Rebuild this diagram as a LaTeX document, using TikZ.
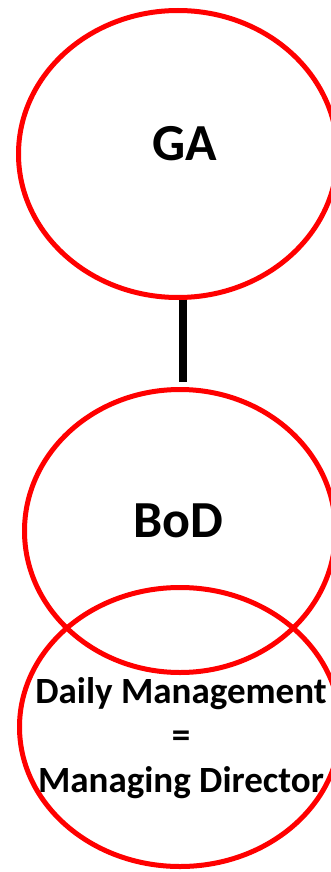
\documentclass[tikz,border=0pt]{standalone}
\usepackage{fontspec}
\setmainfont{Carlito}
\usetikzlibrary{shapes.geometric}
\definecolor{ringred}{RGB}{255,0,0}
\tikzset{
  bubble/.style={draw=ringred, line width=5pt, ellipse, inner sep=0pt, fill=none},
  bigtext/.style={font=\bfseries\fontsize{52}{60}\selectfont, inner sep=0pt, text height=33pt, text depth=19pt},
  dmtext/.style={font=\bfseries\fontsize{37}{44.5}\selectfont, inner sep=0pt, align=center},
  link/.style={line width=8pt, black}
}
\begin{document}
\begin{tikzpicture}[x=1pt,y=-1pt]
\useasboundingbox (0,0) rectangle (331,872);
\clip (0,0) rectangle (331,872);
\fill[white] (0,0) rectangle (331,872);
\node[bubble, minimum width=319pt, minimum height=287pt] (GA) at (178,154) {};
\node[bubble, minimum width=311pt, minimum height=283pt] (BoD) at (180,531) {};
\node[bubble, minimum width=321pt, minimum height=279pt] (DM) at (180,727) {};
\node[bigtext] (GAt) at (185,153) {GA};
\node[bigtext] (BoDt) at (178,530) {BoD};
\node[dmtext] (DMt) at (181,738) {Daily Management\\=\\Managing Director};
\draw[link] ([xshift=4.5pt]GA.south) -- ([xshift=2.5pt,yshift=5pt]BoD.north);
\end{tikzpicture}
\end{document}
